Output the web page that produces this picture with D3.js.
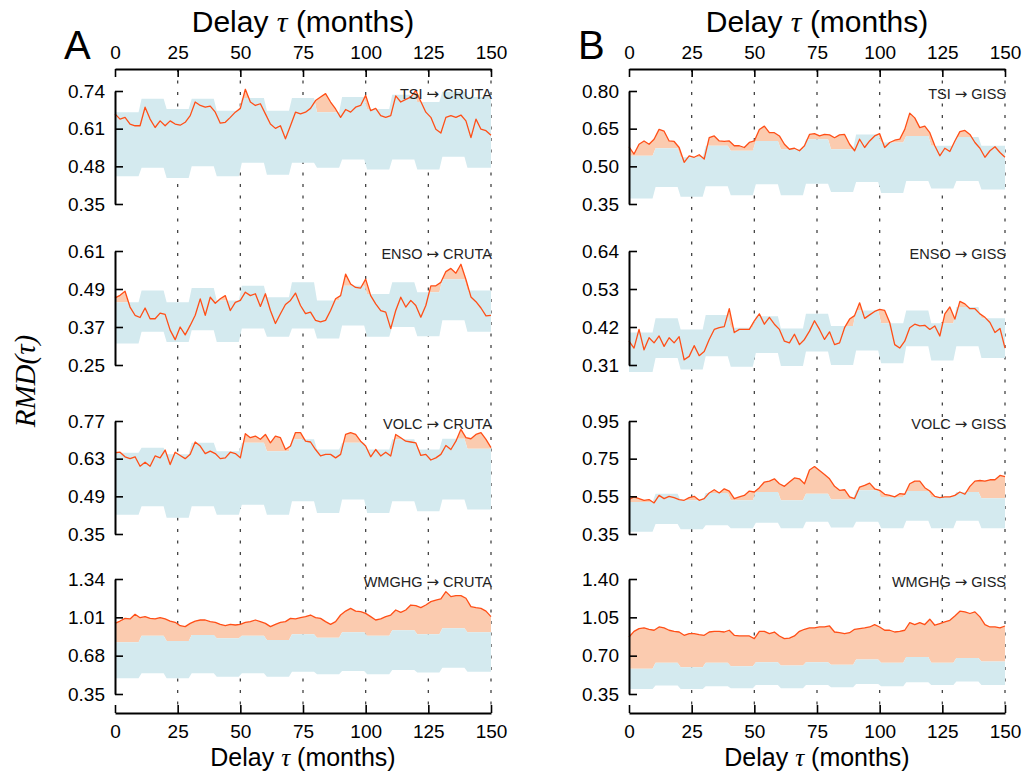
<!DOCTYPE html>
<html>
<head>
<meta charset="utf-8">
<script src="https://cdn.jsdelivr.net/npm/d3@7"></script>
<style>
  body { margin: 0; background: #fff; }
  svg { display: block; }
</style>
</head>
<body>
<svg id="chart"></svg>
<script>
// delay axis (months), line sampled every 2 months
const months = [0,2,4,6,8,10,12,14,16,18,20,22,24,26,28,30,32,34,36,38,40,42,44,46,48,50,52,54,56,58,
  60,62,64,66,68,70,72,74,76,78,80,82,84,86,88,90,92,94,96,98,100,102,104,106,108,110,112,114,116,118,
  120,122,124,126,128,130,132,134,136,138,140,142,144,146,148,150];
// surrogate band is given per 10-month block
const blockStarts = [0,10,20,30,40,50,60,70,80,90,100,110,120,130,140];
const delayTicks = [0,25,50,75,100,125,150];

// --- A: CRUTA ---
const tsiCruta = [
  0.661,0.643,0.649,0.626,0.620,0.620,0.684,0.643,0.614,0.637,
  0.620,0.637,0.626,0.622,0.632,0.655,0.702,0.690,0.684,0.688,
  0.667,0.629,0.632,0.649,0.667,0.680,0.746,0.702,0.690,0.696,
  0.661,0.626,0.611,0.620,0.575,0.620,0.667,0.661,0.667,0.680,
  0.707,0.719,0.731,0.702,0.678,0.649,0.676,0.667,0.684,0.690,
  0.725,0.672,0.680,0.655,0.649,0.655,0.723,0.702,0.711,0.719,
  0.742,0.704,0.667,0.649,0.608,0.595,0.649,0.655,0.649,0.657,
  0.637,0.579,0.643,0.608,0.603,0.587];
const tsiCrutaHi = [0.667,0.713,0.678,0.713,0.672,0.716,0.672,0.716,0.667,0.719,0.678,0.727,0.702,0.737,0.719];
const tsiCrutaLo = [0.446,0.475,0.440,0.480,0.446,0.492,0.451,0.492,0.475,0.504,0.469,0.504,0.469,0.513,0.475];
const tsiCrutaTicks = [0.35,0.48,0.61,0.74];

const ensoCruta = [
  0.462,0.470,0.483,0.433,0.407,0.400,0.430,0.396,0.396,0.414,
  0.410,0.360,0.330,0.370,0.345,0.375,0.407,0.459,0.407,0.464,
  0.445,0.459,0.469,0.422,0.448,0.454,0.480,0.469,0.475,0.435,
  0.475,0.422,0.381,0.412,0.441,0.454,0.477,0.438,0.412,0.417,
  0.391,0.386,0.391,0.422,0.459,0.469,0.537,0.506,0.495,0.493,
  0.521,0.469,0.443,0.422,0.417,0.365,0.422,0.464,0.433,0.454,
  0.438,0.401,0.438,0.500,0.500,0.511,0.545,0.555,0.540,0.568,
  0.520,0.465,0.450,0.430,0.405,0.407];
const ensoCrutaHi = [0.448,0.485,0.448,0.493,0.454,0.500,0.464,0.511,0.454,0.500,0.474,0.511,0.480,0.521,0.485];
const ensoCrutaLo = [0.318,0.355,0.323,0.360,0.323,0.365,0.339,0.365,0.334,0.375,0.339,0.370,0.341,0.391,0.355];
const ensoCrutaTicks = [0.25,0.37,0.49,0.61];

const volcCruta = [
  0.652,0.654,0.637,0.630,0.637,0.602,0.617,0.602,0.640,0.633,
  0.662,0.608,0.654,0.642,0.630,0.646,0.692,0.677,0.649,0.658,
  0.649,0.630,0.633,0.654,0.649,0.633,0.723,0.708,0.714,0.702,
  0.720,0.689,0.714,0.708,0.664,0.677,0.727,0.727,0.695,0.692,
  0.664,0.640,0.646,0.646,0.633,0.646,0.720,0.727,0.720,0.695,
  0.677,0.637,0.664,0.640,0.654,0.640,0.720,0.708,0.695,0.692,
  0.689,0.642,0.646,0.625,0.633,0.646,0.679,0.664,0.695,0.739,
  0.708,0.704,0.720,0.727,0.702,0.671];
const volcCrutaHi = [0.652,0.671,0.646,0.689,0.658,0.689,0.658,0.702,0.664,0.689,0.664,0.702,0.664,0.704,0.667];
const volcCrutaLo = [0.422,0.453,0.410,0.453,0.422,0.459,0.422,0.472,0.428,0.478,0.428,0.472,0.435,0.478,0.441];
const volcCrutaTicks = [0.35,0.49,0.63,0.77];

const wmghgCruta = [
  0.958,0.978,1.001,0.996,1.036,1.007,1.016,1.001,0.996,1.007,
  0.996,0.978,0.967,0.938,0.930,0.958,0.978,0.987,0.987,0.973,
  0.967,0.950,0.938,0.950,0.944,0.950,0.967,0.973,0.987,0.973,
  0.958,0.930,0.950,0.967,0.973,1.001,0.996,1.007,1.016,1.030,
  1.007,1.001,0.973,0.950,0.973,1.030,1.064,1.087,1.064,1.059,
  1.044,1.016,0.987,0.996,1.016,1.030,1.073,1.053,1.073,1.116,
  1.110,1.093,1.116,1.145,1.159,1.168,1.231,1.188,1.197,1.197,
  1.174,1.102,1.093,1.087,1.064,1.016];
const wmghgCrutaHi = [0.795,0.852,0.806,0.858,0.829,0.852,0.815,0.864,0.835,0.881,0.852,0.898,0.864,0.915,0.881];
const wmghgCrutaLo = [0.485,0.528,0.485,0.528,0.499,0.528,0.499,0.542,0.519,0.548,0.519,0.556,0.536,0.577,0.542];
const wmghgCrutaTicks = [0.35,0.68,1.01,1.34];

// --- B: GISS ---
const tsiGiss = [
  0.578,0.549,0.588,0.601,0.588,0.608,0.647,0.640,0.601,0.599,
  0.575,0.516,0.542,0.536,0.546,0.529,0.614,0.621,0.601,0.599,
  0.601,0.582,0.582,0.575,0.595,0.601,0.647,0.660,0.634,0.634,
  0.621,0.588,0.568,0.572,0.562,0.582,0.627,0.630,0.621,0.627,
  0.625,0.614,0.625,0.627,0.588,0.562,0.608,0.575,0.601,0.621,
  0.630,0.575,0.595,0.604,0.608,0.647,0.712,0.693,0.654,0.660,
  0.634,0.582,0.542,0.572,0.559,0.601,0.638,0.643,0.627,0.595,
  0.572,0.536,0.562,0.578,0.555,0.536];
const tsiGissHi = [0.542,0.572,0.536,0.582,0.562,0.601,0.568,0.608,0.568,0.627,0.595,0.621,0.582,0.617,0.582];
const tsiGissLo = [0.372,0.418,0.379,0.421,0.385,0.429,0.385,0.431,0.398,0.438,0.394,0.442,0.412,0.442,0.408];
const tsiGissTicks = [0.35,0.50,0.65,0.80];

const ensoGiss = [
  0.379,0.359,0.413,0.354,0.389,0.374,0.394,0.364,0.389,0.374,
  0.392,0.325,0.335,0.366,0.337,0.349,0.384,0.413,0.418,0.421,
  0.473,0.404,0.413,0.413,0.413,0.438,0.458,0.428,0.448,0.428,
  0.413,0.379,0.374,0.399,0.369,0.384,0.408,0.438,0.413,0.384,
  0.406,0.369,0.374,0.418,0.443,0.453,0.490,0.445,0.455,0.465,
  0.471,0.468,0.433,0.369,0.359,0.379,0.418,0.428,0.423,0.425,
  0.413,0.423,0.394,0.458,0.478,0.443,0.494,0.487,0.473,0.473,
  0.458,0.448,0.433,0.404,0.416,0.359];
const ensoGissHi = [0.404,0.445,0.413,0.455,0.418,0.451,0.416,0.458,0.423,0.468,0.431,0.468,0.431,0.478,0.445];
const ensoGissLo = [0.290,0.330,0.297,0.335,0.305,0.345,0.307,0.349,0.310,0.352,0.315,0.364,0.323,0.364,0.330];
const ensoGissTicks = [0.31,0.42,0.53,0.64];

const volcGiss = [
  0.533,0.547,0.538,0.529,0.533,0.515,0.555,0.538,0.550,0.543,
  0.533,0.529,0.543,0.550,0.529,0.538,0.568,0.585,0.568,0.590,
  0.578,0.538,0.547,0.555,0.578,0.573,0.596,0.626,0.631,0.643,
  0.617,0.603,0.626,0.648,0.643,0.617,0.690,0.708,0.687,0.666,
  0.643,0.603,0.582,0.585,0.547,0.538,0.599,0.608,0.620,0.590,
  0.582,0.561,0.555,0.547,0.564,0.561,0.617,0.631,0.631,0.596,
  0.578,0.550,0.543,0.547,0.547,0.555,0.573,0.561,0.603,0.631,
  0.634,0.631,0.638,0.638,0.661,0.655];
const volcGissHi = [0.520,0.564,0.529,0.568,0.529,0.573,0.529,0.564,0.533,0.582,0.547,0.578,0.547,0.573,0.540];
const volcGissLo = [0.362,0.403,0.375,0.397,0.380,0.410,0.380,0.415,0.385,0.415,0.380,0.420,0.380,0.420,0.380];
const volcGissTicks = [0.35,0.55,0.75,0.95];

const wmghgGiss = [
  0.870,0.922,0.947,0.953,0.941,0.932,0.962,0.953,0.932,0.922,
  0.916,0.886,0.901,0.901,0.892,0.886,0.916,0.922,0.922,0.916,
  0.932,0.886,0.880,0.880,0.880,0.855,0.922,0.922,0.901,0.916,
  0.880,0.855,0.861,0.880,0.922,0.941,0.953,0.953,0.962,0.962,
  0.971,0.916,0.910,0.901,0.910,0.941,0.947,0.953,0.962,0.984,
  0.962,0.932,0.932,0.916,0.922,0.932,1.002,0.984,1.002,0.984,
  1.033,0.978,0.993,1.008,1.023,1.063,1.106,1.100,1.085,1.100,
  1.054,0.984,0.962,0.962,0.953,0.971];
const wmghgGissHi = [0.580,0.635,0.595,0.635,0.604,0.641,0.610,0.641,0.616,0.665,0.635,0.687,0.635,0.678,0.647];
const wmghgGissLo = [0.396,0.427,0.396,0.420,0.402,0.433,0.402,0.433,0.411,0.442,0.420,0.457,0.433,0.463,0.433];
const wmghgGissTicks = [0.35,0.70,1.05,1.40];

const panels = [
  {col: 0, row: 0, src: "TSI", dst: "CRUTA", line: tsiCruta, hi: tsiCrutaHi, lo: tsiCrutaLo, ticks: tsiCrutaTicks},
  {col: 0, row: 1, src: "ENSO", dst: "CRUTA", line: ensoCruta, hi: ensoCrutaHi, lo: ensoCrutaLo, ticks: ensoCrutaTicks},
  {col: 0, row: 2, src: "VOLC", dst: "CRUTA", line: volcCruta, hi: volcCrutaHi, lo: volcCrutaLo, ticks: volcCrutaTicks},
  {col: 0, row: 3, src: "WMGHG", dst: "CRUTA", line: wmghgCruta, hi: wmghgCrutaHi, lo: wmghgCrutaLo, ticks: wmghgCrutaTicks},
  {col: 1, row: 0, src: "TSI", dst: "GISS", line: tsiGiss, hi: tsiGissHi, lo: tsiGissLo, ticks: tsiGissTicks},
  {col: 1, row: 1, src: "ENSO", dst: "GISS", line: ensoGiss, hi: ensoGissHi, lo: ensoGissLo, ticks: ensoGissTicks},
  {col: 1, row: 2, src: "VOLC", dst: "GISS", line: volcGiss, hi: volcGissHi, lo: volcGissLo, ticks: volcGissTicks},
  {col: 1, row: 3, src: "WMGHG", dst: "GISS", line: wmghgGiss, hi: wmghgGissHi, lo: wmghgGissLo, ticks: wmghgGissTicks}
];

// layout
const W = 1027, H = 774;
const colLeft = [115, 629], colWidth = 376;
const rowTop = [91, 251, 421, 579], rowBottom = [204, 365, 534, 694];
const topAxisY = 69, bottomAxisY = 713;
const font = "'Liberation Sans', Arial, Helvetica, sans-serif";
const serif = "'Liberation Serif', 'DejaVu Serif', serif";
const bandColor = "#d4eaef", fillColor = "#fbcbaf", lineColor = "#ff4f17";

const svg = d3.select("#chart").attr("width", W).attr("height", H);

function delayTitle(g, x, y, size) {
  const t = g.append("text")
    .attr("x", x).attr("y", y)
    .attr("text-anchor", "middle")
    .attr("font-family", font).attr("font-size", size);
  t.append("tspan").text("Delay ");
  t.append("tspan").attr("font-family", serif).attr("font-style", "italic").text("\u03c4");
  t.append("tspan").text(" (months)");
}

["A", "B"].forEach((letter, c) => {
  const x = d3.scaleLinear().domain([0, 150]).range([colLeft[c], colLeft[c] + colWidth]);
  const g = svg.append("g");

  // dotted verticals
  g.selectAll(".grid")
    .data(delayTicks.filter(d => d > 0))
    .enter().append("line")
    .attr("x1", d => x(d)).attr("x2", d => x(d))
    .attr("y1", topAxisY).attr("y2", bottomAxisY)
    .attr("stroke", "#444").attr("stroke-width", 1.3)
    .attr("stroke-dasharray", "3,8.5");

  const topAx = g.append("g")
    .attr("transform", `translate(0,${topAxisY})`)
    .call(d3.axisTop(x).tickValues(delayTicks).tickSize(-8).tickSizeOuter(0).tickPadding(10));
  const botAx = g.append("g")
    .attr("transform", `translate(0,${bottomAxisY})`)
    .call(d3.axisBottom(x).tickValues(delayTicks).tickSize(-8).tickSizeOuter(0).tickPadding(12));
  [topAx, botAx].forEach(ax => {
    ax.attr("font-family", font).attr("font-size", 19);
    ax.select(".domain").attr("stroke-width", 2);
    ax.selectAll(".tick line").attr("stroke-width", 1.6);
    ax.selectAll(".tick text").attr("fill", "#000");
  });

  const midX = colLeft[c] + colWidth / 2;
  delayTitle(g, midX, 32, 30);
  delayTitle(g, midX, 766, 25);

  g.append("text")
    .attr("x", colLeft[c] - 51).attr("y", 59)
    .attr("font-family", font).attr("font-size", 40)
    .text(letter);
});

panels.forEach((p, i) => {
  const x = d3.scaleLinear().domain([0, 150]).range([colLeft[p.col], colLeft[p.col] + colWidth]);
  const top = rowTop[p.row], bottom = rowBottom[p.row];
  const y = d3.scaleLinear().domain([p.ticks[0], p.ticks[3]]).range([bottom, top]);

  const lineData = months.map((m, k) => ({m: m, v: p.line[k]}));
  // each block is flat, with a short ramp to the next block
  const last = blockStarts.length - 1;
  const bandData = [];
  blockStarts.forEach((m, k) => {
    const start = k === 0 ? m : m + 0.6;
    const end = k === last ? 150 : blockStarts[k + 1] - 0.6;
    bandData.push({m: start, hi: p.hi[k], lo: p.lo[k]});
    bandData.push({m: end, hi: p.hi[k], lo: p.lo[k]});
  });

  const g = svg.append("g");

  // clip: everything above the band's upper edge
  const clipId = "above" + i;
  g.append("clipPath").attr("id", clipId)
    .append("path")
    .attr("d", d3.area()
      .x(d => x(d.m))
      .y0(top - 60)
      .y1(d => y(d.hi))(bandData));

  // observed above surrogate band
  g.append("path")
    .attr("clip-path", `url(#${clipId})`)
    .attr("fill", fillColor)
    .attr("d", d3.area()
      .x(d => x(d.m))
      .y0(bottom + 60)
      .y1(d => y(d.v))(lineData));

  // surrogate band
  g.append("path")
    .attr("fill", bandColor)
    .attr("d", d3.area()
      .x(d => x(d.m))
      .y0(d => y(d.lo))
      .y1(d => y(d.hi))(bandData));

  g.append("path")
    .attr("fill", "none")
    .attr("stroke", lineColor)
    .attr("stroke-width", 1.3)
    .attr("stroke-linejoin", "round")
    .attr("d", d3.line().x(d => x(d.m)).y(d => y(d.v))(lineData));

  const yAx = g.append("g")
    .attr("transform", `translate(${colLeft[p.col]},0)`)
    .call(d3.axisLeft(y).tickValues(p.ticks).tickSize(-8).tickSizeOuter(0)
      .tickPadding(10).tickFormat(d3.format(".2f")));
  yAx.attr("font-family", font).attr("font-size", 19);
  yAx.select(".domain").attr("stroke-width", 2);
  yAx.selectAll(".tick line").attr("stroke-width", 1.6);
  yAx.selectAll(".tick text").attr("fill", "#000");

  const lab = g.append("text")
    .attr("x", colLeft[p.col] + colWidth + 1).attr("y", top + 8)
    .attr("text-anchor", "end")
    .attr("font-family", font).attr("font-size", 14.5)
    .attr("fill", "#222");
  lab.append("tspan").text(p.src + " ");
  lab.append("tspan").attr("font-family", "'DejaVu Sans', sans-serif").attr("font-size", 15).text("\u2192");
  lab.append("tspan").text(" " + p.dst);
});

svg.append("text")
  .attr("transform", "translate(35,381) rotate(-90)")
  .attr("text-anchor", "middle")
  .attr("font-family", serif)
  .attr("font-style", "italic")
  .attr("font-size", 29)
  .text("RMD(\u03c4)");
</script>
</body>
</html>
